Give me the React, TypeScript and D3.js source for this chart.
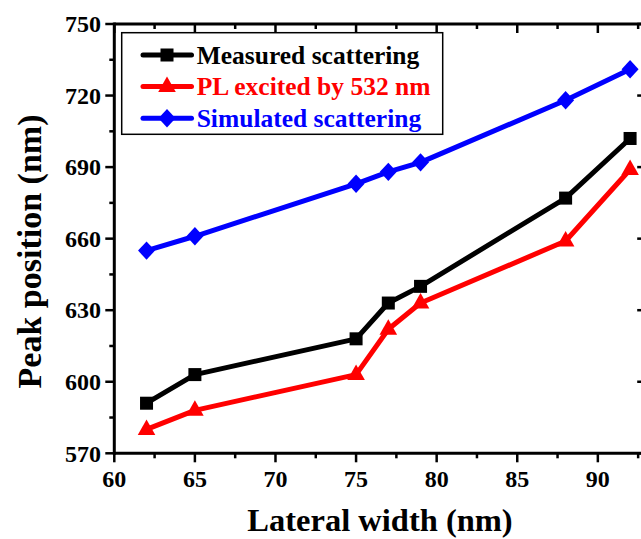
import React from "react";
import * as d3 from "d3";

const widths = [62, 65, 75, 77, 79, 88, 92];
const measured = [591, 603, 618, 633, 640, 677, 702];
const plExcited = [580, 588, 603, 622, 633, 659, 689];
const simulated = [655, 661, 683, 688, 692, 718, 731];
const xTicks = [60, 65, 70, 75, 80, 85, 90];
const yTicks = [570, 600, 630, 660, 690, 720, 750];
const seriesNames = ["Measured scattering", "PL excited by 532 nm", "Simulated scattering"];
const seriesColors = ["#000000", "#ff0000", "#0000ff"];
const seriesMarkers = ["square", "triangle", "diamond"];

const W = 641, H = 539;
const FONT = '"Liberation Serif", "Times New Roman", Tinos, "DejaVu Serif", serif';

function Marker({ type, x, y, color }: { type: string; x: number; y: number; color: string }) {
  if (type === "square") return <rect x={x - 6.5} y={y - 6.5} width={13} height={13} fill={color} />;
  if (type === "triangle") {
    return <path d={`M${x},${y - 10} L${x + 8.8},${y + 5.5} L${x - 8.8},${y + 5.5} Z`} fill={color} />;
  }
  return <path d={`M${x},${y - 9.2} L${x + 8.5},${y} L${x},${y + 9.2} L${x - 8.5},${y} Z`} fill={color} />;
}

export default function App() {
  const x = d3.scaleLinear().domain([60, 93]).range([114.3, 646.2]);
  const y = d3.scaleLinear().domain([570, 750]).range([453.3, 24]);
  const x0 = x(60), x1 = x(93), y0 = y(570), y1 = y(750);
  const line = d3.line<[number, number]>().x(d => x(d[0])).y(d => y(d[1]));
  const series = [measured, plExcited, simulated];
  const xMinor = d3.range(62.5, 93, 5);
  const yMinor = d3.range(585, 750, 30);
  const ts = { fontFamily: FONT, fontWeight: 700 } as React.CSSProperties;

  return (
    <svg width={W} height={H} style={{ position: "absolute", left: 0, top: 0, background: "#fff", fontFamily: FONT, fontWeight: 700 }}>
      <g stroke="#000" strokeWidth={3} fill="none">
        <line x1={x0} x2={x1} y1={y0} y2={y0} />
        <line x1={x0} x2={x1} y1={y1} y2={y1} />
        <line x1={x0} x2={x0} y1={y0 + 1.5} y2={y1 - 1.5} />
        <line x1={x1} x2={x1} y1={y0 + 1.5} y2={y1 - 1.5} />
      </g>
      <g stroke="#000" strokeWidth={2.5}>
        {xTicks.map(t => (
          <g key={"xt" + t}>
            <line x1={x(t)} x2={x(t)} y1={y0} y2={y0 + 9} />
            <line x1={x(t)} x2={x(t)} y1={y1} y2={y1 + 9} />
          </g>
        ))}
        {xMinor.map(t => (
          <g key={"xm" + t}>
            <line x1={x(t)} x2={x(t)} y1={y0} y2={y0 + 5} />
            <line x1={x(t)} x2={x(t)} y1={y1} y2={y1 + 5} />
          </g>
        ))}
        {yTicks.map(t => (
          <g key={"yt" + t}>
            <line x1={x0} x2={x0 - 9} y1={y(t)} y2={y(t)} />
            <line x1={x1} x2={x1 - 9} y1={y(t)} y2={y(t)} />
          </g>
        ))}
        {yMinor.map(t => (
          <g key={"ym" + t}>
            <line x1={x0} x2={x0 - 5} y1={y(t)} y2={y(t)} />
            <line x1={x1} x2={x1 - 5} y1={y(t)} y2={y(t)} />
          </g>
        ))}
      </g>
      <g fontSize={24} fill="#000">
        {xTicks.map(t => (
          <text key={"xl" + t} style={ts} x={x(t)} y={486.5} textAnchor="middle">{t}</text>
        ))}
        {yTicks.map(t => (
          <text key={"yl" + t} style={ts} x={101} y={y(t) + 8.2} textAnchor="end">{t}</text>
        ))}
      </g>
      <text style={ts} x={380} y={531} textAnchor="middle" fontSize={32.5} fill="#000">Lateral width (nm)</text>
      <text style={ts} transform={`translate(40.5,251.5) rotate(-90)`} textAnchor="middle" fontSize={34} fill="#000">Peak position (nm)</text>
      {series.map((s, i) => {
        const pts = widths.map((w, j) => [w, s[j]] as [number, number]);
        return (
          <g key={"s" + i}>
            <path d={line(pts) || ""} fill="none" stroke={seriesColors[i]} strokeWidth={5} strokeLinejoin="round" />
            {pts.map((p, j) => (
              <Marker key={j} type={seriesMarkers[i]} x={x(p[0])} y={y(p[1])} color={seriesColors[i]} />
            ))}
          </g>
        );
      })}
      <g>
        <rect x={121.7} y={32.7} width={321} height={101.6} fill="#fff" stroke="#000" strokeWidth={1.5} />
        {seriesNames.map((n, i) => {
          const ly = 55 + i * 31.6;
          return (
            <g key={"lg" + i}>
              <line x1={143} x2={191.5} y1={ly} y2={ly} stroke={seriesColors[i]} strokeWidth={5} strokeLinecap="round" />
              <Marker type={seriesMarkers[i]} x={167} y={ly} color={seriesColors[i]} />
              <text style={ts} x={196.7} y={ly + 8.5} fontSize={25.5} fill={seriesColors[i]}>{n}</text>
            </g>
          );
        })}
      </g>
    </svg>
  );
}
